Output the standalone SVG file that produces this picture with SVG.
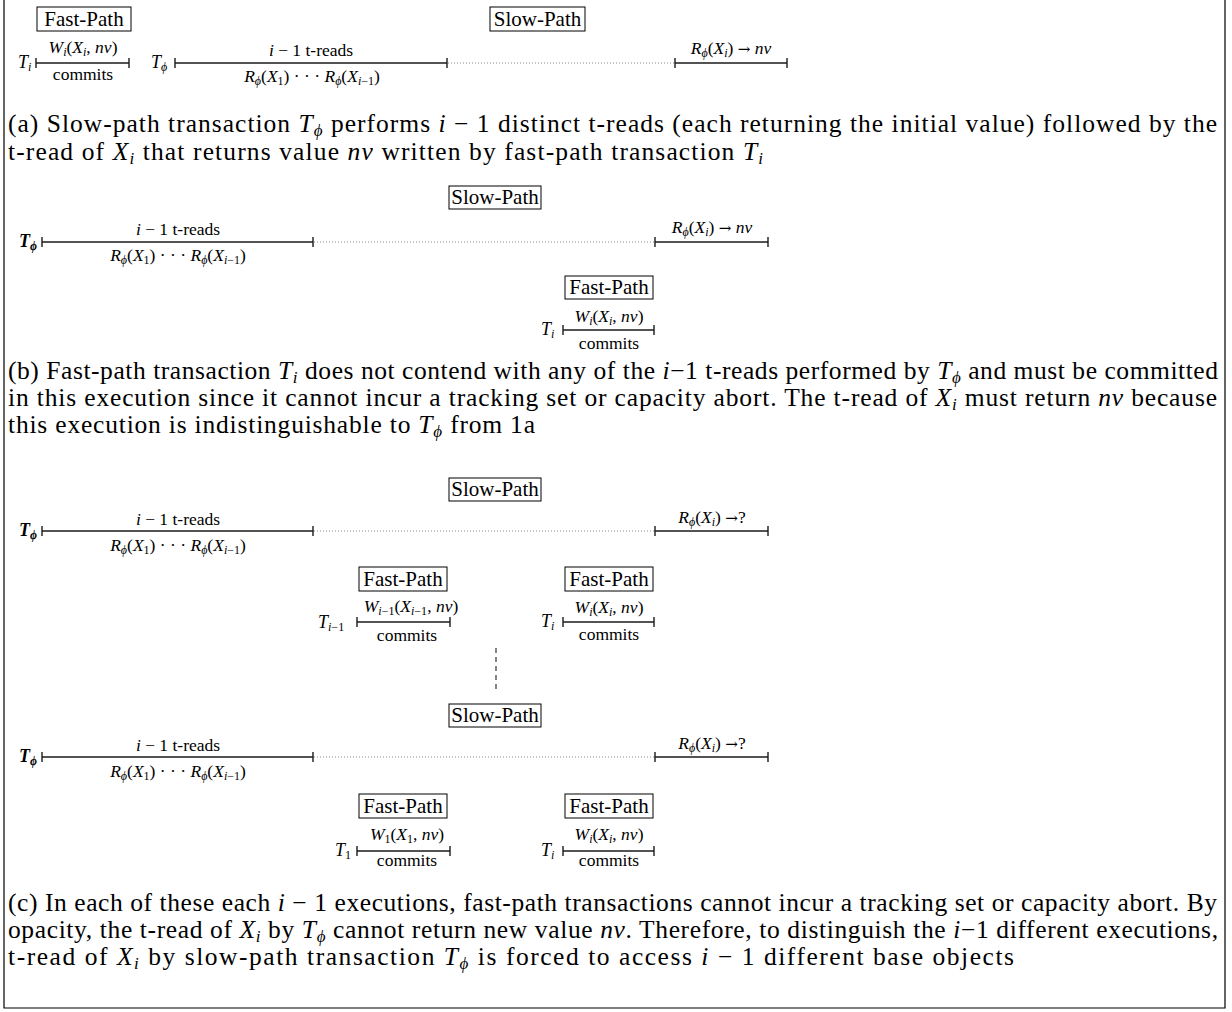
<svg xmlns="http://www.w3.org/2000/svg" width="1232" height="1012" viewBox="0 0 1232 1012">
<style>
text { font-family: "Liberation Serif", "Times New Roman", "DejaVu Serif", serif; fill: #000; }
.cap { font-size: 25.5px; }
.lab { font-size: 17.5px; text-anchor: middle; }
.tn { font-size: 18px; }
.bx { font-size: 21px; text-anchor: middle; }
.m { font-style: italic; }
.b { font-weight: bold; font-style: italic; }
.s { font-size: 12px; }
.cs { font-size: 17px; }
.ar { font-family: "DejaVu Serif", serif; font-size: 15px; }
.frame { fill: none; stroke: #000; stroke-width: 1.2; }
.box { fill: none; stroke: #000; stroke-width: 1; }
.tl { stroke: #1a1a1a; stroke-width: 1.6; fill: none; }
.tk { stroke: #1a1a1a; stroke-width: 1.4; }
.dot { stroke: #8a8a8a; stroke-width: 1; stroke-dasharray: 1 2; }
.dash { stroke: #333; stroke-width: 1.2; stroke-dasharray: 5 4; }
</style>
<path class="frame" d="M4,0 V1008 H1225 V0"/>

<!-- (a) -->
<g id="a-fast-label"><rect class="box" x="37" y="7" width="94" height="24"/><text class="bx" x="84" y="26">Fast-Path</text></g>
<g id="a-slow-label"><rect class="box" x="490" y="7" width="95" height="24"/><text class="bx" x="537.5" y="26">Slow-Path</text></g>
<g id="a-Ti">
<text class="tn" x="18" y="68"><tspan class="m">T</tspan><tspan dy="3" class="s m">i</tspan></text>
<line class="tl" x1="36" y1="63" x2="129" y2="63"/><line class="tk" x1="36" y1="58" x2="36" y2="68"/><line class="tk" x1="129" y1="58" x2="129" y2="68"/>
<text class="lab" x="83" y="53"><tspan class="m">W</tspan><tspan dy="3" class="s m">i</tspan><tspan dy="-3">(</tspan><tspan class="m">X</tspan><tspan dy="3" class="s m">i</tspan><tspan dy="-3">, </tspan><tspan class="m">nv</tspan>)</text>
<text class="lab" x="83" y="80">commits</text>
</g>
<g id="a-Tphi">
<text class="tn" x="151" y="68"><tspan class="m">T</tspan><tspan dy="3" class="s m">ϕ</tspan></text>
<line class="tl" x1="175" y1="63" x2="447" y2="63"/><line class="tk" x1="175" y1="58" x2="175" y2="68"/><line class="tk" x1="447" y1="58" x2="447" y2="68"/>
<text class="lab" x="311" y="56"><tspan class="m">i</tspan> − 1 t-reads</text>
<text class="lab" x="312" y="82"><tspan class="m">R</tspan><tspan dy="3" class="s m">ϕ</tspan><tspan dy="-3">(</tspan><tspan class="m">X</tspan><tspan dy="3" class="s">1</tspan><tspan dy="-3">) · · · </tspan><tspan class="m">R</tspan><tspan dy="3" class="s m">ϕ</tspan><tspan dy="-3">(</tspan><tspan class="m">X</tspan><tspan dy="3" class="s"><tspan class="m">i</tspan>−1</tspan><tspan dy="-3">)</tspan></text>
<line class="dot" x1="448" y1="63" x2="675" y2="63"/>
<line class="tl" x1="675" y1="63" x2="787" y2="63"/><line class="tk" x1="675" y1="58" x2="675" y2="68"/><line class="tk" x1="787" y1="58" x2="787" y2="68"/>
<text class="lab" x="731" y="54"><tspan class="m">R</tspan><tspan dy="3" class="s m">ϕ</tspan><tspan dy="-3">(</tspan><tspan class="m">X</tspan><tspan dy="3" class="s m">i</tspan><tspan dy="-3">) </tspan><tspan class="ar">→</tspan> <tspan class="m">nv</tspan></text>
</g>
<g id="a-caption">
<text class="cap" x="8" y="132" textLength="1209" lengthAdjust="spacing">(a) Slow-path transaction <tspan class="m">T</tspan><tspan dy="4" class="cs m">ϕ</tspan><tspan dy="-4"> performs </tspan><tspan class="m">i</tspan> − 1 distinct t-reads (each returning the initial value) followed by the</text>
<text class="cap" x="8" y="160" textLength="755" lengthAdjust="spacing">t-read of <tspan class="m">X</tspan><tspan dy="4" class="cs m">i</tspan><tspan dy="-4"> that returns value </tspan><tspan class="m">nv</tspan> written by fast-path transaction <tspan class="m">T</tspan><tspan dy="4" class="cs m">i</tspan></text>
</g>

<!-- (b) -->
<g id="b-slow-label"><rect class="box" x="449" y="186" width="92" height="23"/><text class="bx" x="495" y="204">Slow-Path</text></g>
<g id="b-Tphi">
<text class="tn" x="19" y="247"><tspan class="b">T</tspan><tspan dy="3" class="s b">ϕ</tspan></text>
<line class="tl" x1="42" y1="242" x2="313" y2="242"/><line class="tk" x1="42" y1="237" x2="42" y2="247"/><line class="tk" x1="313" y1="237" x2="313" y2="247"/>
<text class="lab" x="178" y="235"><tspan class="m">i</tspan> − 1 t-reads</text>
<text class="lab" x="178" y="261"><tspan class="m">R</tspan><tspan dy="3" class="s m">ϕ</tspan><tspan dy="-3">(</tspan><tspan class="m">X</tspan><tspan dy="3" class="s">1</tspan><tspan dy="-3">) · · · </tspan><tspan class="m">R</tspan><tspan dy="3" class="s m">ϕ</tspan><tspan dy="-3">(</tspan><tspan class="m">X</tspan><tspan dy="3" class="s"><tspan class="m">i</tspan>−1</tspan><tspan dy="-3">)</tspan></text>
<line class="dot" x1="314" y1="242" x2="655" y2="242"/>
<line class="tl" x1="655" y1="242" x2="768" y2="242"/><line class="tk" x1="655" y1="237" x2="655" y2="247"/><line class="tk" x1="768" y1="237" x2="768" y2="247"/>
<text class="lab" x="712" y="233"><tspan class="m">R</tspan><tspan dy="3" class="s m">ϕ</tspan><tspan dy="-3">(</tspan><tspan class="m">X</tspan><tspan dy="3" class="s m">i</tspan><tspan dy="-3">) </tspan><tspan class="ar">→</tspan> <tspan class="m">nv</tspan></text>
</g>
<g id="b-fast-label"><rect class="box" x="565" y="276" width="88" height="23"/><text class="bx" x="609" y="294">Fast-Path</text></g>
<g id="b-Ti">
<text class="tn" x="541" y="335"><tspan class="m">T</tspan><tspan dy="3" class="s m">i</tspan></text>
<line class="tl" x1="563" y1="330" x2="654" y2="330"/><line class="tk" x1="563" y1="325" x2="563" y2="335"/><line class="tk" x1="654" y1="325" x2="654" y2="335"/>
<text class="lab" x="609" y="322"><tspan class="m">W</tspan><tspan dy="3" class="s m">i</tspan><tspan dy="-3">(</tspan><tspan class="m">X</tspan><tspan dy="3" class="s m">i</tspan><tspan dy="-3">, </tspan><tspan class="m">nv</tspan>)</text>
<text class="lab" x="609" y="349">commits</text>
</g>
<g id="b-caption">
<text class="cap" x="8" y="379" textLength="1210" lengthAdjust="spacing">(b) Fast-path transaction <tspan class="m">T</tspan><tspan dy="4" class="cs m">i</tspan><tspan dy="-4"> does not contend with any of the </tspan><tspan class="m">i</tspan>−1 t-reads performed by <tspan class="m">T</tspan><tspan dy="4" class="cs m">ϕ</tspan><tspan dy="-4"> and must be committed</tspan></text>
<text class="cap" x="8" y="406" textLength="1209" lengthAdjust="spacing">in this execution since it cannot incur a tracking set or capacity abort. The t-read of <tspan class="m">X</tspan><tspan dy="4" class="cs m">i</tspan><tspan dy="-4"> must return </tspan><tspan class="m">nv</tspan> because</text>
<text class="cap" x="8" y="433" textLength="527" lengthAdjust="spacing">this execution is indistinguishable to <tspan class="m">T</tspan><tspan dy="4" class="cs m">ϕ</tspan><tspan dy="-4"> from 1a</tspan></text>
</g>

<!-- (c) first execution -->
<g id="c1-slow-label"><rect class="box" x="449" y="478" width="92" height="23"/><text class="bx" x="495" y="496">Slow-Path</text></g>
<g id="c1-Tphi">
<text class="tn" x="19" y="536"><tspan class="b">T</tspan><tspan dy="3" class="s b">ϕ</tspan></text>
<line class="tl" x1="42" y1="531" x2="313" y2="531"/><line class="tk" x1="42" y1="526" x2="42" y2="536"/><line class="tk" x1="313" y1="526" x2="313" y2="536"/>
<text class="lab" x="178" y="525"><tspan class="m">i</tspan> − 1 t-reads</text>
<text class="lab" x="178" y="551"><tspan class="m">R</tspan><tspan dy="3" class="s m">ϕ</tspan><tspan dy="-3">(</tspan><tspan class="m">X</tspan><tspan dy="3" class="s">1</tspan><tspan dy="-3">) · · · </tspan><tspan class="m">R</tspan><tspan dy="3" class="s m">ϕ</tspan><tspan dy="-3">(</tspan><tspan class="m">X</tspan><tspan dy="3" class="s"><tspan class="m">i</tspan>−1</tspan><tspan dy="-3">)</tspan></text>
<line class="dot" x1="314" y1="531" x2="655" y2="531"/>
<line class="tl" x1="655" y1="531" x2="768" y2="531"/><line class="tk" x1="655" y1="526" x2="655" y2="536"/><line class="tk" x1="768" y1="526" x2="768" y2="536"/>
<text class="lab" x="712" y="523"><tspan class="m">R</tspan><tspan dy="3" class="s m">ϕ</tspan><tspan dy="-3">(</tspan><tspan class="m">X</tspan><tspan dy="3" class="s m">i</tspan><tspan dy="-3">) </tspan><tspan class="ar">→</tspan>?</text>
</g>
<g id="c1-fast-label-1"><rect class="box" x="359" y="567" width="88" height="24"/><text class="bx" x="403" y="586">Fast-Path</text></g>
<g id="c1-fast-label-2"><rect class="box" x="565" y="567" width="88" height="24"/><text class="bx" x="609" y="586">Fast-Path</text></g>
<g id="c1-Ti-1">
<text class="tn" x="318" y="628"><tspan class="m">T</tspan><tspan dy="3" class="s"><tspan class="m">i</tspan>−1</tspan></text>
<line class="tl" x1="357" y1="622" x2="450" y2="622"/><line class="tk" x1="357" y1="617" x2="357" y2="627"/><line class="tk" x1="450" y1="617" x2="450" y2="627"/>
<text class="lab" x="411" y="612"><tspan class="m">W</tspan><tspan dy="3" class="s"><tspan class="m">i</tspan>−1</tspan><tspan dy="-3">(</tspan><tspan class="m">X</tspan><tspan dy="3" class="s"><tspan class="m">i</tspan>−1</tspan><tspan dy="-3">, </tspan><tspan class="m">nv</tspan>)</text>
<text class="lab" x="407" y="641">commits</text>
</g>
<g id="c1-Ti">
<text class="tn" x="541" y="627"><tspan class="m">T</tspan><tspan dy="3" class="s m">i</tspan></text>
<line class="tl" x1="563" y1="622" x2="654" y2="622"/><line class="tk" x1="563" y1="617" x2="563" y2="627"/><line class="tk" x1="654" y1="617" x2="654" y2="627"/>
<text class="lab" x="609" y="613"><tspan class="m">W</tspan><tspan dy="3" class="s m">i</tspan><tspan dy="-3">(</tspan><tspan class="m">X</tspan><tspan dy="3" class="s m">i</tspan><tspan dy="-3">, </tspan><tspan class="m">nv</tspan>)</text>
<text class="lab" x="609" y="640">commits</text>
</g>

<g id="connectors">
<line class="dash" x1="496" y1="648" x2="496" y2="690"/>
</g>

<!-- (c) last execution -->
<g id="c2-slow-label"><rect class="box" x="449" y="704" width="92" height="23"/><text class="bx" x="495" y="722">Slow-Path</text></g>
<g id="c2-Tphi">
<text class="tn" x="19" y="762"><tspan class="b">T</tspan><tspan dy="3" class="s b">ϕ</tspan></text>
<line class="tl" x1="42" y1="757" x2="313" y2="757"/><line class="tk" x1="42" y1="752" x2="42" y2="762"/><line class="tk" x1="313" y1="752" x2="313" y2="762"/>
<text class="lab" x="178" y="751"><tspan class="m">i</tspan> − 1 t-reads</text>
<text class="lab" x="178" y="777"><tspan class="m">R</tspan><tspan dy="3" class="s m">ϕ</tspan><tspan dy="-3">(</tspan><tspan class="m">X</tspan><tspan dy="3" class="s">1</tspan><tspan dy="-3">) · · · </tspan><tspan class="m">R</tspan><tspan dy="3" class="s m">ϕ</tspan><tspan dy="-3">(</tspan><tspan class="m">X</tspan><tspan dy="3" class="s"><tspan class="m">i</tspan>−1</tspan><tspan dy="-3">)</tspan></text>
<line class="dot" x1="314" y1="757" x2="655" y2="757"/>
<line class="tl" x1="655" y1="757" x2="768" y2="757"/><line class="tk" x1="655" y1="752" x2="655" y2="762"/><line class="tk" x1="768" y1="752" x2="768" y2="762"/>
<text class="lab" x="712" y="749"><tspan class="m">R</tspan><tspan dy="3" class="s m">ϕ</tspan><tspan dy="-3">(</tspan><tspan class="m">X</tspan><tspan dy="3" class="s m">i</tspan><tspan dy="-3">) </tspan><tspan class="ar">→</tspan>?</text>
</g>
<g id="c2-fast-label-1"><rect class="box" x="359" y="794" width="88" height="24"/><text class="bx" x="403" y="813">Fast-Path</text></g>
<g id="c2-fast-label-2"><rect class="box" x="565" y="794" width="88" height="24"/><text class="bx" x="609" y="813">Fast-Path</text></g>
<g id="c2-T1">
<text class="tn" x="335" y="856"><tspan class="m">T</tspan><tspan dy="3" class="s">1</tspan></text>
<line class="tl" x1="357" y1="851" x2="450" y2="851"/><line class="tk" x1="357" y1="846" x2="357" y2="856"/><line class="tk" x1="450" y1="846" x2="450" y2="856"/>
<text class="lab" x="407" y="840"><tspan class="m">W</tspan><tspan dy="3" class="s">1</tspan><tspan dy="-3">(</tspan><tspan class="m">X</tspan><tspan dy="3" class="s">1</tspan><tspan dy="-3">, </tspan><tspan class="m">nv</tspan>)</text>
<text class="lab" x="407" y="866">commits</text>
</g>
<g id="c2-Ti">
<text class="tn" x="541" y="856"><tspan class="m">T</tspan><tspan dy="3" class="s m">i</tspan></text>
<line class="tl" x1="563" y1="851" x2="654" y2="851"/><line class="tk" x1="563" y1="846" x2="563" y2="856"/><line class="tk" x1="654" y1="846" x2="654" y2="856"/>
<text class="lab" x="609" y="840"><tspan class="m">W</tspan><tspan dy="3" class="s m">i</tspan><tspan dy="-3">(</tspan><tspan class="m">X</tspan><tspan dy="3" class="s m">i</tspan><tspan dy="-3">, </tspan><tspan class="m">nv</tspan>)</text>
<text class="lab" x="609" y="866">commits</text>
</g>
<g id="c-caption">
<text class="cap" x="8" y="911" textLength="1209" lengthAdjust="spacing">(c) In each of these each <tspan class="m">i</tspan> − 1 executions, fast-path transactions cannot incur a tracking set or capacity abort. By</text>
<text class="cap" x="8" y="938" textLength="1210" lengthAdjust="spacing">opacity, the t-read of <tspan class="m">X</tspan><tspan dy="4" class="cs m">i</tspan><tspan dy="-4"> by </tspan><tspan class="m">T</tspan><tspan dy="4" class="cs m">ϕ</tspan><tspan dy="-4"> cannot return new value </tspan><tspan class="m">nv</tspan>. Therefore, to distinguish the <tspan class="m">i</tspan>−1 different executions,</text>
<text class="cap" x="8" y="965" textLength="1006" lengthAdjust="spacing">t-read of <tspan class="m">X</tspan><tspan dy="4" class="cs m">i</tspan><tspan dy="-4"> by slow-path transaction </tspan><tspan class="m">T</tspan><tspan dy="4" class="cs m">ϕ</tspan><tspan dy="-4"> is forced to access </tspan><tspan class="m">i</tspan> − 1 different base objects</text>
</g>
</svg>
